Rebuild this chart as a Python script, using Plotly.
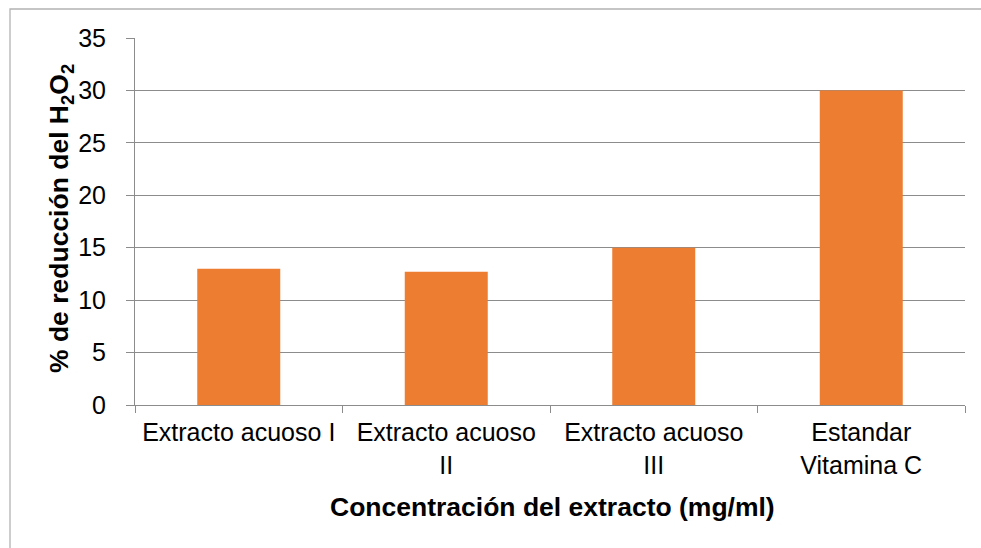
import plotly.graph_objects as go

categories = ["Extracto acuoso I", "Extracto acuoso<br>II", "Extracto acuoso<br>III", "Estandar<br>Vitamina C"]
values = [13, 12.7, 15, 30]
y_ticks = [0, 5, 10, 15, 20, 25, 30, 35]

W, H = 981, 548
L, R, T, B = 135, 16, 38, 143
pw, ph = W - L - R, H - T - B

fig = go.Figure(go.Bar(x=categories, y=values, marker=dict(color="#ED7D31", line=dict(width=0)), width=0.4))

font = dict(family="Liberation Sans, Arial, sans-serif", size=25, color="#000000")
tfont = dict(family="Liberation Sans, Arial, sans-serif", size=26.5, color="#000000")
grid = "#8C8C8C"

fig.update_layout(
    width=W, height=H,
    margin=dict(l=L, r=R, t=T, b=B),
    paper_bgcolor="white", plot_bgcolor="white",
    font=font, showlegend=False, bargap=0.6,
    xaxis=dict(showgrid=False, showline=True, linecolor=grid, linewidth=1,
               ticks="outside", tickson="boundaries", ticklen=7, tickcolor=grid,
               tickfont=font, ticklabelstandoff=5),
    yaxis=dict(range=[0, 35], tickvals=y_ticks, showgrid=True, gridcolor=grid, gridwidth=1,
               showline=True, linecolor=grid, linewidth=1, ticks="outside", ticklen=8,
               tickcolor=grid, tickfont=font, zeroline=False, ticklabelstandoff=15),
    shapes=[dict(type="rect", xref="paper", yref="paper",
                 x0=(10 - L) / pw, x1=2, y0=-1, y1=1 + (T - 9) / ph,
                 line=dict(color="#B3B3B3", width=1.3), fillcolor="rgba(0,0,0,0)", layer="below")],
    annotations=[
        dict(text="<b>% de reducción del H<sub>2</sub>O<sub>2</sub></b>", textangle=-90,
             xref="paper", yref="paper", x=(61 - L) / pw, y=(405 - 219) / ph, xanchor="center", yanchor="middle",
             showarrow=False, font=tfont),
        dict(text="<b>Concentración del extracto (mg/ml)</b>",
             xref="paper", yref="paper", x=(552 - L) / pw, y=(405 - 507) / ph, xanchor="center", yanchor="middle",
             showarrow=False, font=tfont),
    ],
)

fig.write_html("out.html", config={"displayModeBar": False},
               post_script="document.body.style.margin='0';document.body.style.padding='0';")
